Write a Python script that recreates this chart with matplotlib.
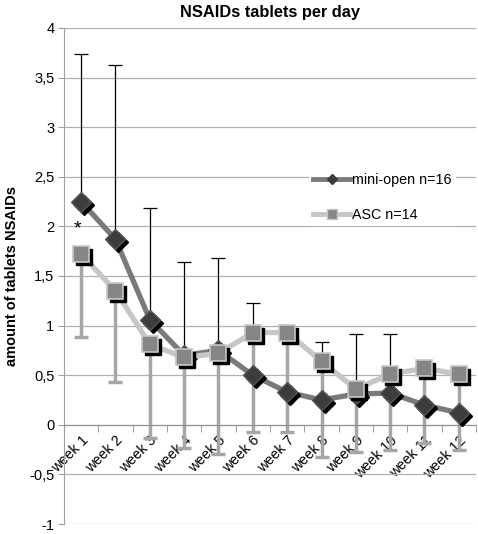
import matplotlib.pyplot as plt
from matplotlib.lines import Line2D
from matplotlib.ticker import FuncFormatter, MultipleLocator
from matplotlib.transforms import offset_copy, ScaledTranslation
import numpy as np

weeks = ["week 1", "week 2", "week 3", "week 4", "week 5", "week 6",
         "week 7", "week 8", "week 9", "week 10", "week 11", "week 12"]
mini_open = [2.25, 1.87, 1.06, 0.70, 0.75, 0.50, 0.33, 0.25, 0.31, 0.32, 0.20, 0.12]
mini_open_upper = [3.74, 3.63, 2.19, 1.64, 1.68, 1.23, 0.85, 0.83, 0.92, 0.92, 0.50, 0.45]
asc = [1.72, 1.35, 0.81, 0.68, 0.72, 0.93, 0.93, 0.64, 0.36, 0.51, 0.57, 0.51]
asc_lower = [0.89, 0.43, -0.13, -0.23, -0.29, -0.07, -0.07, -0.32, -0.27, -0.25, -0.18, -0.25]

plt.rcParams['font.family'] = ['Liberation Sans', 'DejaVu Sans']

fig = plt.figure(figsize=(4.78, 5.34), dpi=100)
ax = fig.add_axes([64/478, 1-524/534, 412/478, 496/534])
x = np.arange(len(weeks))

mo = np.array(mini_open)
ac = np.array(asc)
ax.errorbar(x, mo, yerr=[np.zeros(len(mo)), np.array(mini_open_upper)-mo], fmt='none',
            ecolor='black', elinewidth=0.9, capsize=5, capthick=0.9, zorder=2)
ax.errorbar(x, ac, yerr=[ac-np.array(asc_lower), np.zeros(len(ac))], fmt='none',
            ecolor='#a6a6a6', elinewidth=2.5, capsize=5, capthick=2.5, zorder=2)

shadow = offset_copy(ax.transData, fig=fig, x=3, y=-3, units='dots')

ax.plot(x, mo, color='#7a7a7a', lw=3.8, zorder=3)
ax.plot(x, mo, 'D', ms=10, color='black', transform=shadow, zorder=3.1)
ax.plot(x, mo, 'D', ms=10, mfc='#3c3c3c', mec='#555555', mew=1, zorder=3.2)

ax.plot(x, ac, color='#c6c6c6', lw=3.8, zorder=4)
ax.plot(x, ac, 's', ms=11, color='black', transform=shadow, zorder=4.1)
ax.plot(x, ac, 's', ms=11, mfc='#868686', mec='#c6c6c6', mew=1.2, zorder=4.2)

ax.text(-0.12, 1.97, '*', ha='center', va='center', fontsize=14)

ax.set_xlim(-0.5, 11.5)
ax.set_ylim(-1, 4)
ax.yaxis.set_major_locator(MultipleLocator(0.5))
ax.yaxis.set_major_formatter(FuncFormatter(lambda v, p: ('%g' % v).replace('.', ',')))
ax.grid(axis='y', color='#b0b0b0', lw=0.9, zorder=0)
ax.set_axisbelow(True)

for s in ['top', 'right']:
    ax.spines[s].set_visible(False)
ax.spines['left'].set_color('#a0a0a0')
ax.spines['bottom'].set_position(('data', 0))
ax.spines['bottom'].set_color('#909090')

ax.set_xticks(x)
ax.set_xticklabels(weeks, rotation=45, ha='right', va='top', rotation_mode='anchor', fontsize=10.3)
shift = ScaledTranslation(-5/100, -1/100, fig.dpi_scale_trans)
for lab in ax.get_xticklabels():
    lab.set_transform(lab.get_transform() + shift)
ax.set_xticks(np.arange(0.5, 12, 1), minor=True)
ax.tick_params(axis='x', which='major', length=0, pad=6)
ax.tick_params(axis='x', which='minor', length=5, color='#909090')
ax.tick_params(axis='y', length=4, color='#a0a0a0', labelsize=10.5, pad=3)

ax.set_ylabel('amount of tablets NSAIDs', fontsize=10.5, fontweight='bold')
ax.yaxis.set_label_coords((19-64)/412, 0.5)
fig.text(270/478, 1-13/534, 'NSAIDs tablets per day', ha='center', va='center',
         fontsize=11.8, fontweight='bold')

handles = [Line2D([], [], color='#7a7a7a', lw=3.5, marker='D', ms=5, mfc='#3c3c3c', mec='#3c3c3c'),
           Line2D([], [], color='#c6c6c6', lw=3.5, marker='s', ms=6.5, mfc='#868686', mec='#c6c6c6')]
leg = ax.legend(handles, ['mini-open n=16', 'ASC n=14'], loc='upper left',
                bbox_to_anchor=(309/478, 1-169/534), bbox_transform=fig.transFigure,
                frameon=True, fontsize=10.3, handlelength=2.6, handletextpad=0.1,
                labelspacing=1.45, borderaxespad=0, borderpad=0.3, fancybox=False)
leg.get_frame().set_edgecolor('none')
leg.get_frame().set_facecolor('white')
leg.get_frame().set_alpha(1)

fig.savefig('out.png', dpi=100)
